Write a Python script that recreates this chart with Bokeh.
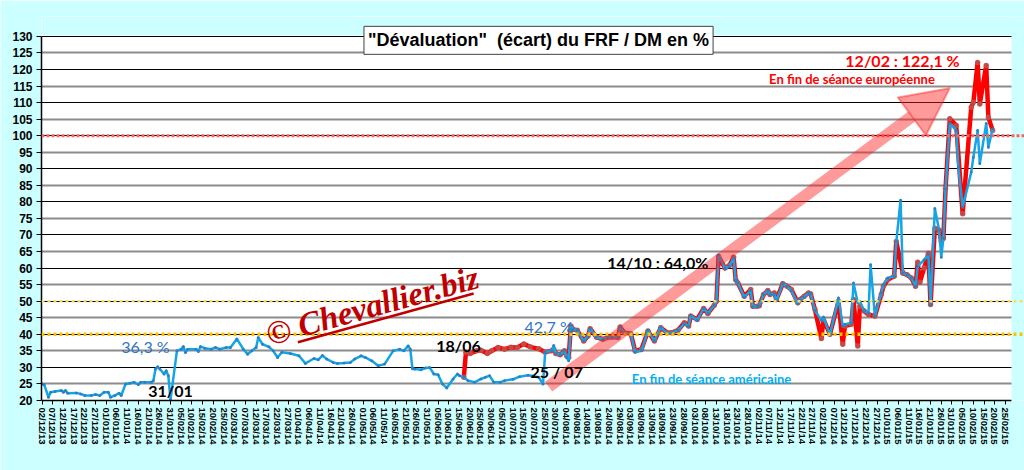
import datetime as dt
from bokeh.plotting import figure
from bokeh.models import (Range1d, FixedTicker, Grid, Span, BoxAnnotation, Label,
                          Arrow, NormalHead)
from bokeh.embed import file_html
from bokeh.resources import INLINE

# ---------------- data ----------------
start = dt.date(2013, 12, 2)          # day 0
tick_days = list(range(0, 451, 5))
tick_labels = [(start + dt.timedelta(days=d)).strftime("%d/%m/%y") for d in tick_days]
y_ticks = list(range(20, 131, 5))
grid_major = list(range(20, 131, 10))
grid_minor = list(range(25, 131, 10))

# "En fin de séance américaine" (blue), x = days since 02/12/13
us_day = [0, 1, 3, 4, 6, 9, 10, 11, 12, 16, 18, 20, 23, 25, 27, 29, 31, 32, 34, 36, 37,
          39, 41, 43, 45, 46, 48, 51, 52, 53, 54, 55, 57, 58, 59, 60, 63, 65, 66, 67, 68,
          72, 73, 74, 76, 79, 81, 83, 86, 88, 91, 94, 96, 98, 100, 101, 103, 106, 108,
          110, 112, 116, 120, 123, 127, 129, 131, 133, 136, 138, 141, 144, 146, 149, 151,
          154, 157, 160, 164, 167, 169, 171, 172, 173, 174, 177, 179, 181, 183, 185, 187,
          189, 192, 194, 195, 197, 199, 202, 205, 207, 209, 211, 214, 216, 220, 223, 227,
          229, 232, 234, 235, 238, 239, 240, 242, 244, 245, 246, 247, 248, 250, 253, 255,
          256, 259, 262, 264, 266, 269, 270, 272, 275, 277, 280, 283, 286, 289, 292, 294,
          297, 300, 302, 303, 306, 309, 311, 314, 315, 316, 319, 321, 323, 324, 325, 328,
          331, 332, 334, 335, 337, 339, 340, 342, 343, 346, 348, 350, 353, 354, 356, 358,
          359, 361, 364, 365, 368, 372, 374, 375, 378, 379, 381, 382, 384, 386, 387, 389,
          392, 393, 395, 398, 399, 401, 402, 404, 406, 408, 409, 412, 414, 415, 417, 419,
          420, 421, 422, 424, 427, 428, 430, 434, 435, 437, 438, 441, 442, 444]
us_val = [25.0, 24.8, 21.0, 22.5, 22.7, 23.0, 22.5, 23.0, 22.2, 22.3, 22.0, 21.5, 21.5,
          21.8, 21.5, 22.5, 22.5, 21.0, 21.5, 22.2, 21.5, 25.0, 25.2, 25.5, 24.8, 25.5,
          25.5, 25.5, 26.0, 29.5, 30.2, 29.5, 28.0, 29.0, 27.5, 20.2, 35.0, 35.5, 36.3,
          34.5, 35.5, 35.5, 34.8, 36.3, 35.8, 35.5, 36.0, 35.5, 36.0, 36.0, 38.6, 35.5,
          34.0, 35.0, 36.0, 39.0, 37.0, 36.2, 35.0, 33.0, 34.6, 34.2, 33.5, 31.2, 32.7,
          32.3, 33.6, 32.5, 31.5, 31.2, 31.3, 31.5, 32.5, 33.5, 33.0, 32.0, 30.5, 31.0,
          35.0, 35.5, 35.0, 36.5, 35.5, 29.6, 29.5, 29.3, 29.8, 30.0, 28.0, 27.8, 25.0,
          23.8, 26.5, 28.0, 27.5, 27.0, 26.0, 25.5, 26.5, 27.0, 27.5, 25.5, 25.5, 26.0,
          26.4, 27.2, 27.6, 27.4, 27.0, 25.0, 34.6, 35.0, 36.6, 34.2, 33.8, 35.0, 33.0,
          32.0, 42.7, 41.5, 41.2, 38.0, 39.5, 41.7, 39.1, 38.5, 39.0, 39.2, 39.0, 42.2,
          40.5, 40.2, 34.6, 35.0, 41.2, 38.0, 42.2, 40.2, 40.5, 41.2, 43.2, 42.5, 45.7,
          44.2, 47.8, 46.3, 48.8, 50.2, 64.0, 59.9, 60.5, 63.0, 56.3, 55.5, 51.2, 53.2,
          48.2, 48.5, 48.6, 52.0, 53.2, 52.0, 52.2, 50.2, 55.3, 54.5, 53.2, 49.2, 50.5,
          51.2, 52.5, 52.2, 47.2, 44.2, 45.2, 39.8, 51.0, 42.4, 43.0, 43.5, 55.5, 49.5,
          50.0, 47.0, 46.5, 61.0, 45.5, 52.5, 55.0, 57.0, 57.5, 68.0, 80.5, 58.5, 58.0,
          57.0, 54.5, 60.5, 62.5, 64.0, 49.0, 78.0, 71.5, 63.3, 69.0, 84.0, 103.7, 101.6,
          90.5, 78.4, 89.0, 93.5, 101.6, 91.6, 103.7, 96.5, 102.1]

# "En fin de séance européenne" (red)
eu_day = [197, 198, 200, 203, 205, 208, 210, 213, 216, 219, 222, 225, 228, 232, 235, 238,
          239, 240, 242, 244, 245, 246, 247, 248, 250, 253, 255, 256, 259, 262, 264, 266,
          269, 270, 272, 275, 277, 280, 283, 286, 289, 292, 294, 297, 300, 302, 303, 306,
          309, 311, 314, 315, 316, 319, 321, 323, 324, 325, 328, 331, 332, 334, 335, 337,
          339, 340, 342, 343, 346, 348, 350, 353, 354, 356, 358, 359, 361, 364, 365, 368,
          372, 374, 375, 378, 379, 381, 382, 384, 386, 389, 392, 393, 395, 398, 399, 402,
          404, 406, 408, 409, 410, 412, 414, 415, 417, 419, 420, 421, 422, 424, 427, 430,
          434, 435, 437, 438, 441, 442, 444]
eu_val = [27.0, 34.6, 34.2, 35.0, 35.2, 34.2, 35.0, 36.0, 35.5, 36.1, 36.0, 37.1, 36.2,
          35.6, 34.6, 35.0, 35.5, 34.2, 33.8, 35.0, 33.5, 33.0, 42.5, 41.5, 41.2, 38.0,
          39.5, 41.7, 39.1, 38.5, 39.0, 39.2, 39.0, 42.2, 40.5, 40.2, 35.0, 35.5, 41.0,
          38.0, 42.0, 40.5, 40.5, 41.2, 43.5, 42.5, 45.5, 44.5, 47.8, 46.3, 48.8, 50.0,
          63.5, 60.0, 60.8, 63.3, 56.5, 55.5, 51.5, 53.5, 48.5, 48.5, 48.6, 52.0, 53.2,
          52.0, 52.5, 50.5, 55.3, 54.5, 53.5, 49.5, 50.5, 51.5, 52.5, 52.2, 47.5, 38.7,
          44.5, 40.0, 50.0, 37.0, 42.5, 43.0, 50.5, 36.5, 48.5, 47.0, 46.0, 45.5, 52.0,
          54.5, 56.5, 57.5, 68.0, 58.5, 58.0, 57.0, 54.5, 61.8, 55.7, 60.0, 64.5, 49.0,
          72.0, 71.5, 68.0, 69.0, 84.0, 105.1, 103.1, 76.4, 108.6, 110.1, 122.1, 109.6,
          121.2, 105.6, 101.6]

# ---------------- figure ----------------
X0 = -0.25
PX_PER_DAY = 2.141
FRAME_W = 1024 - 41
x_end = X0 + FRAME_W / PX_PER_DAY
white_end = 452.8
Y_TOP = 136.0

p = figure(width=1024, height=470, x_range=Range1d(X0, x_end), y_range=Range1d(20, Y_TOP),
           output_backend="svg", toolbar_location=None,
           min_border_left=41, min_border_right=0, min_border_top=16, min_border_bottom=70)
p.border_fill_color = "#CCFFFF"
p.background_fill_color = "white"
p.outline_line_color = None

# grids
p.xgrid.visible = False
p.ygrid.ticker = FixedTicker(ticks=grid_major)
p.ygrid.grid_line_color = "black"
p.ygrid.grid_line_width = 1
g2 = Grid(dimension=1, ticker=FixedTicker(ticks=grid_minor),
          grid_line_color="#8C8C8C", grid_line_width=2)
p.add_layout(g2)

# axes
p.yaxis.ticker = FixedTicker(ticks=y_ticks)
p.yaxis.bounds = (20, 130)
p.yaxis.major_label_text_font = "Liberation Sans"
p.yaxis.major_label_text_font_style = "bold"
p.yaxis.major_label_text_font_size = "12px"
p.yaxis.major_label_text_color = "black"
p.yaxis.axis_line_color = "black"
p.yaxis.axis_line_width = 1.5
p.yaxis.major_tick_out = 5
p.yaxis.major_tick_in = 0
p.yaxis.minor_tick_out = 0
p.yaxis.minor_tick_in = 0
p.yaxis.major_label_standoff = 4

p.xaxis.ticker = FixedTicker(ticks=tick_days)
p.xaxis.major_label_overrides = {d: l for d, l in zip(tick_days, tick_labels)}
p.xaxis.major_label_orientation = "vertical"
p.xaxis.major_label_text_font = "Liberation Sans"
p.xaxis.major_label_text_font_style = "bold"
p.xaxis.major_label_text_font_size = "9.5px"
p.xaxis.major_label_text_color = "black"
p.xaxis.axis_line_color = "black"
p.xaxis.axis_line_width = 1.5
p.xaxis.major_tick_out = 4
p.xaxis.major_tick_in = 0
p.xaxis.minor_tick_out = 0
p.xaxis.minor_tick_in = 0
p.xaxis.major_label_standoff = 3
p.xaxis.bounds = (X0, white_end)

# data
p.line(eu_day, eu_val, line_color="#FF0000", line_width=4.5, line_join="round")
p.scatter(eu_day, eu_val, size=5.5, fill_color="#C0504D", line_color=None, fill_alpha=0.9)
p.line(us_day, us_val, line_color="#14A5E6", line_width=2.5, line_join="round")
p.scatter(us_day, us_val, size=3, fill_color="#2A78C0", line_color=None, fill_alpha=0.8)

# cyan areas outside the white chart area (right strip, band above 130)
p.add_layout(BoxAnnotation(left=white_end, fill_color="#CCFFFF", fill_alpha=1,
                           line_color=None))
p.add_layout(BoxAnnotation(bottom=130.25, fill_color="#CCFFFF", fill_alpha=1,
                           line_color=None))

# reference dotted lines
p.add_layout(Span(location=100, dimension="width", line_color="#FF6060",
                  line_dash="3 2", line_width=3))
p.add_layout(Span(location=50, dimension="width", line_color="#FFD966",
                  line_dash="3 3", line_width=2.5))
p.add_layout(Span(location=40, dimension="width", line_color="#FFC000",
                  line_dash="3 3", line_width=3.5))

# big arrow
p.add_layout(Arrow(end=NormalHead(size=47, fill_color="#FF2020", fill_alpha=0.45,
                                  line_color="#FF2020", line_alpha=0.45, line_width=2,
                                  line_join="round"),
                   x_start=236.6, y_start=24.2, x_end=423.9, y_end=114.3,
                   line_color="#FF2020", line_alpha=0.45, line_width=12))

# watermark
p.add_layout(Label(x=154.3, y=48.6, text="© Chevallier.biz", angle=0.27,
                   text_align="center", text_baseline="middle",
                   text_font="Liberation Serif", text_font_style="bold italic",
                   text_font_size="33px", text_color="#C00000"))
p.add_layout(Arrow(end=None, x_start=119.5, y_start=37.6, x_end=201.6, y_end=52.3,
                   line_color="#C00000", line_width=2.5))

def lab(x, y, text, color="black", size="16px", style="normal", font="Lato"):
    p.add_layout(Label(x=x, y=y, text=text, text_align="center", text_baseline="middle",
                       text_font=font, text_font_size=size, text_font_style=style,
                       text_color=color))

lab(48.3, 36.3, "36,3 %", color="#2E75C6")
lab(60.0, 23.0, "31/01", style="bold")
lab(194.5, 36.6, "18/06", style="bold")
lab(240.4, 28.8, "25 / 07", style="bold")
lab(236.6, 42.4, "42,7 %", color="#2E75C6")
lab(287.6, 61.7, "14/10 : 64,0%", style="bold")
lab(401.9, 122.7, "12/02 : 122,1 %", color="#FF0000", style="bold")
lab(378.3, 117.0, "En fin de séance européenne", color="#FF0000", size="13px", style="bold")
lab(312.7, 26.6, "En fin de séance américaine", color="#00B0F0", size="13px", style="bold")

# title box with shadow
title = '"Dévaluation"\u00a0 (écart) du FRF / DM en %'
p.add_layout(Label(x=231.9, y=128.8, text=title, text_align="center", text_baseline="middle",
                   text_font="Liberation Sans", text_font_size="18px", text_font_style="bold",
                   text_alpha=0, x_offset=3, y_offset=-3, padding=4,
                   background_fill_color="#909090", background_fill_alpha=0.6))
p.add_layout(Label(x=231.9, y=128.8, text=title, text_align="center", text_baseline="middle",
                   text_font="Liberation Sans", text_font_size="18px", text_font_style="bold",
                   text_color="black", padding=4,
                   background_fill_color="white", border_line_color="#404040",
                   border_line_width=1))

open("out.html", "w").write(file_html(p, INLINE))
